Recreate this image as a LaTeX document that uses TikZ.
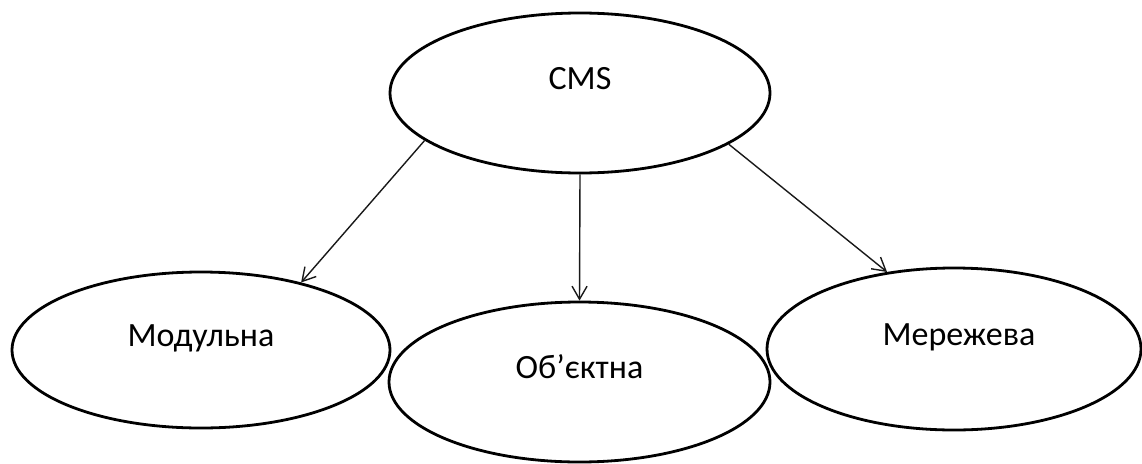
\documentclass[tikz,border=0pt]{standalone}
\usepackage{fontspec}
\setmainfont{Carlito}
\usetikzlibrary{shapes.geometric,arrows.meta}
\newcommand\liftt[1]{\raisebox{4pt}[0pt][0pt]{#1}}
\tikzset{
  oval/.style={ellipse, draw=black, line width=2.8pt, inner sep=0pt,
    minimum width=380pt, minimum height=160pt,
    font=\fontsize{34}{40}\selectfont},
  link/.style={draw=black!90, line width=1.4pt,
    -{Straight Barb[length=13pt,width=15pt,line width=1.4pt]}}
}
\begin{document}
\begin{tikzpicture}[x=1pt,y=-1pt]
\useasboundingbox (0,0) rectangle (1142,463);
\node[oval] (cms) at (580,93) {\liftt{CMS}};
\node[oval, minimum width=378pt, minimum height=156pt] (mod) at (201,350) {\liftt{Модульна}};
\node[oval, minimum width=381pt] (obj) at (579.5,382) {\liftt{Об’єктна}};
\node[oval, minimum width=374pt, minimum height=162pt] (mer) at (954,349) {\hspace*{10pt}\liftt{Мережева}};
\draw[link] (cms.197) -- (mod.34);
\draw[link] (cms.south) -- (obj.north);
\draw[link] (cms.341) -- (mer.131);
\end{tikzpicture}
\end{document}
